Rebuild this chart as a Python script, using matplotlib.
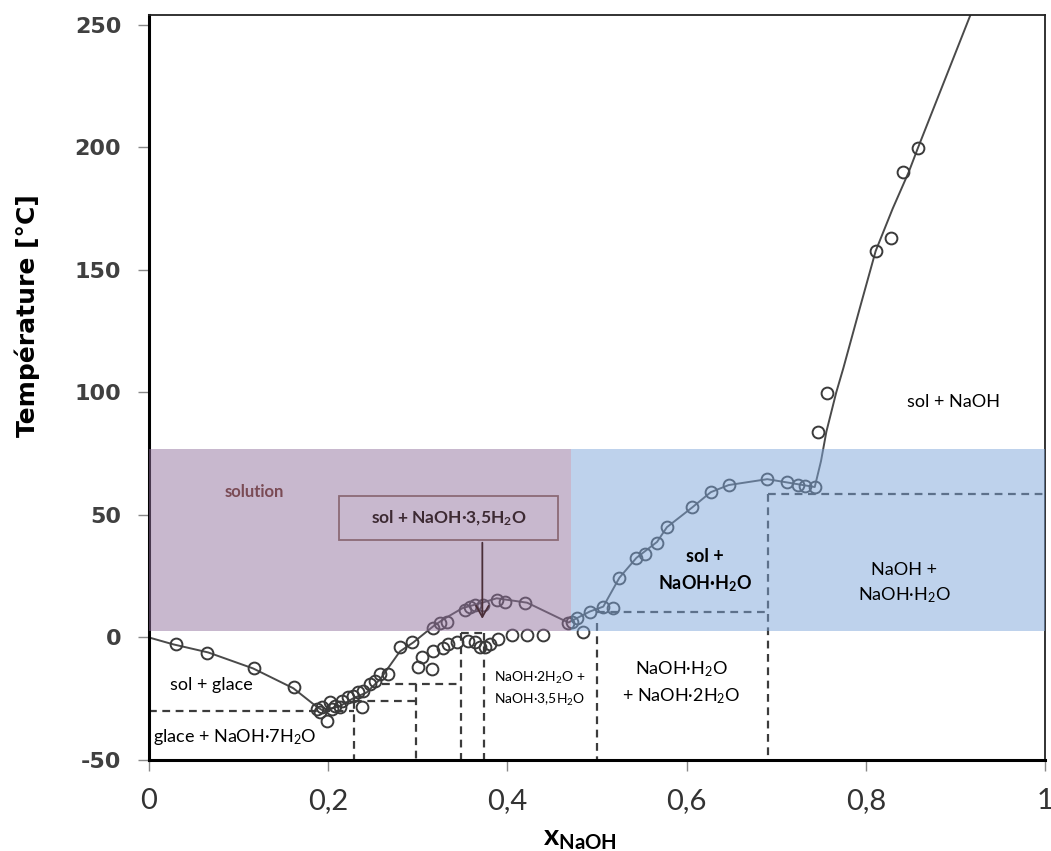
import numpy as np
import matplotlib
matplotlib.use("Agg")
import matplotlib.pyplot as plt
from matplotlib.ticker import FixedLocator, FixedFormatter

plt.rcParams['font.family'] = ['Lato', 'DejaVu Sans']
plt.rcParams['mathtext.fontset'] = 'custom'
plt.rcParams['mathtext.rm'] = 'Lato'
plt.rcParams['mathtext.it'] = 'Lato:italic'
plt.rcParams['mathtext.bf'] = 'Lato:bold'
plt.rcParams['axes.unicode_minus'] = False

# courbe du liquidus (tracé lissé)
line_x = [0.0, 0.027, 0.066, 0.116, 0.161, 0.188, 0.195, 0.213, 0.228, 0.243,
          0.258, 0.28, 0.295, 0.317, 0.328, 0.35, 0.372, 0.388, 0.422, 0.468,
          0.492, 0.507, 0.525, 0.544, 0.567, 0.578, 0.606, 0.627, 0.647, 0.69,
          0.743, 0.75, 0.756, 0.767, 0.775, 0.793, 0.811, 0.83, 0.848, 0.858,
          0.92]
line_T = [0, -2.8, -6.1, -12.6, -20.7, -28.5, -30, -28, -24.8, -22.4,
          -17, -5.7, -2, 4.5, 7.3, 12, 14.2, 16, 14.2, 6.1,
          10.6, 12.6, 24.4, 32.5, 39, 45, 53, 59.3, 62.2, 64.6,
          61.4, 72, 84, 100, 110, 134, 157.7, 175, 190, 199.6,
          257]

# points expérimentaux (liquidus)
liq_x = [0.030, 0.065, 0.117, 0.162, 0.188, 0.193, 0.191, 0.199, 0.202, 0.204,
         0.208, 0.213, 0.215, 0.222, 0.228, 0.233, 0.238, 0.239, 0.247, 0.252,
         0.258, 0.267, 0.28, 0.294, 0.317, 0.325, 0.333, 0.353, 0.358, 0.364,
         0.373, 0.388, 0.397, 0.42, 0.468, 0.472, 0.478, 0.492, 0.507, 0.518,
         0.525, 0.544, 0.554, 0.567, 0.578, 0.606, 0.627, 0.647, 0.69, 0.712,
         0.724, 0.732, 0.743, 0.747, 0.757, 0.811, 0.828, 0.842, 0.858]
liq_T = [-2.8, -6.5, -12.6, -20.3, -29.3, -28.5, -30.5, -34.1, -26.4, -29.3,
         -28, -28.5, -26, -24.4, -24, -22.4, -28.5, -22, -19.1, -17.9,
         -15, -15, -4, -2, 4, 6.1, 6.5, 11.4, 12.6, 13.4,
         13.4, 15.4, 14.6, 14.2, 6.1, 6.5, 8.1, 10.6, 12.6, 12.2,
         24.4, 32.5, 34.1, 38.6, 45.1, 53.3, 59.3, 62.2, 64.6, 63.4,
         62.2, 61.8, 61.4, 83.7, 99.6, 157.7, 163, 189.8, 199.6]

# points expérimentaux (solidus / transitions)
sol_x = [0.300, 0.305, 0.316, 0.317, 0.328, 0.334, 0.344, 0.356, 0.364, 0.369,
         0.375, 0.381, 0.39, 0.405, 0.422, 0.44, 0.484]
sol_T = [-12, -8.1, -13, -5.7, -4.1, -2.8, -2, -1.6, -2, -3.7,
         -3.7, -2.8, -0.8, 1.2, 1.2, 1.2, 2.4]

# paliers (traits pointillés horizontaux) et compositions des hydrates
h_T = [-30, -26, -19, 2, 10.5, 58.5]
h_x0 = [0.0, 0.229, 0.26, 0.348, 0.5, 0.691]
h_x1 = [0.229, 0.298, 0.348, 0.374, 0.691, 1.0]
v_x = [0.229, 0.298, 0.348, 0.374, 0.5, 0.691]
v_T = [-26, -19, 2, 2, 6, 58.5]

# zones colorées
zone_T = [2.5, 77]
purple_x = [0.0, 0.471]
blue_x = [0.471, 1.0]

xticks = [0, 0.2, 0.4, 0.6, 0.8, 1.0]
xtick_labels = ['0', '0,2', '0,4', '0,6', '0,8', '1']
yticks = [-50, 0, 50, 100, 150, 200, 250]

fig = plt.figure(figsize=(10.51, 8.51), dpi=100)
ax = fig.add_axes([0.1418, 0.1069, 0.8525, 0.8755])

dash_kw = dict(color='#3c3c3c', lw=1.6, ls=(0, (3.5, 2.5)), zorder=2)
for T, a, b in zip(h_T, h_x0, h_x1):
    ax.plot([a, b], [T, T], **dash_kw)
for x, T in zip(v_x, v_T):
    ax.plot([x, x], [T, -50], **dash_kw)

ax.plot(line_x, line_T, color='#4a4a4a', lw=1.4, zorder=2)
ax.plot(liq_x, liq_T, 'o', mfc='none', mec='#3a3a3a', mew=1.4, ms=8.5, zorder=3)
ax.plot(sol_x, sol_T, 'o', mfc='none', mec='#3a3a3a', mew=1.4, ms=8.5, zorder=3)

ax.fill_between(purple_x, zone_T[0], zone_T[1], color='#93739f', alpha=0.5, lw=0, zorder=4)
ax.fill_between(blue_x, zone_T[0], zone_T[1], color='#7fa7db', alpha=0.5, lw=0, zorder=4)

# textes
ax.text(0.118, 59.3, 'solution', fontsize=12, fontweight='bold', color='#7a4b55',
        ha='center', va='center', zorder=5)
ax.text(0.07, -19.5, 'sol + glace', fontsize=13, ha='center', va='center', zorder=5)
ax.text(0.096, -40.7, 'glace + NaOH·7H$_2$O', fontsize=13, ha='center', va='center', zorder=5)
ax.text(0.436, -21, 'NaOH·2H$_2$O +\nNaOH·3,5H$_2$O', fontsize=10, ha='center',
        va='center', linespacing=1.5, zorder=5)
ax.text(0.594, -18.3, 'NaOH·H$_2$O\n+ NaOH·2H$_2$O', fontsize=13, ha='center',
        va='center', linespacing=1.5, zorder=5)
ax.text(0.62, 27, 'sol +\nNaOH·H$_\\mathbf{2}$O', fontsize=13, fontweight='bold',
        ha='center', va='center', linespacing=1.5, zorder=5)
ax.text(0.843, 22, 'NaOH +\nNaOH·H$_2$O', fontsize=13, ha='center', va='center',
        linespacing=1.5, zorder=5)
ax.text(0.898, 96, 'sol + NaOH', fontsize=13, ha='center', va='center', zorder=5)

ax.add_patch(plt.Rectangle((0.212, 39.8), 0.245, 17.9, fill=False,
                           ec='#8c6a76', lw=1.3, zorder=6))
ax.text(0.3345, 48.7, 'sol + NaOH·3,5H$_\\mathbf{2}$O', fontsize=12.5, fontweight='bold',
        color='#3d2a33', ha='center', va='center', zorder=6)
ax.annotate('', xy=(0.372, 6.5), xytext=(0.372, 39.8),
            arrowprops=dict(arrowstyle='->,head_length=0.8,head_width=0.45',
                            color='#4a2e38', lw=1.3), zorder=6)

ax.set_xlim(0, 1)
ax.set_ylim(-50, 254)
ax.xaxis.set_major_locator(FixedLocator(xticks))
ax.xaxis.set_major_formatter(FixedFormatter(xtick_labels))
ax.set_yticks(yticks)

ax.tick_params(axis='x', direction='out', length=8, width=1, color='#888888',
               labelsize=21, labelcolor='#333333', pad=12)
ax.tick_params(axis='y', direction='out', length=8, width=1, color='#888888',
               labelsize=16, labelcolor='#404040', pad=12)
for lab in ax.get_xticklabels():
    lab.set_family(['Liberation Sans Narrow', 'Lato'])
for lab in ax.get_yticklabels():
    lab.set_family('DejaVu Sans')
    lab.set_fontweight('bold')

ax.set_xlabel('$\\mathbf{x}_{\\mathbf{NaOH}}$', fontsize=21)
ax.xaxis.set_label_coords(0.481, -0.088)
ax.set_ylabel('Température [°C]', fontsize=18, fontweight='bold', family='DejaVu Sans')
ax.yaxis.set_label_coords(-0.122, 0.597)

for s in ['left', 'bottom']:
    ax.spines[s].set_linewidth(2.2)
    ax.spines[s].set_color('black')
for s in ['top', 'right']:
    ax.spines[s].set_linewidth(1.3)
    ax.spines[s].set_color('#222222')

fig.savefig('out.png', dpi=100)
